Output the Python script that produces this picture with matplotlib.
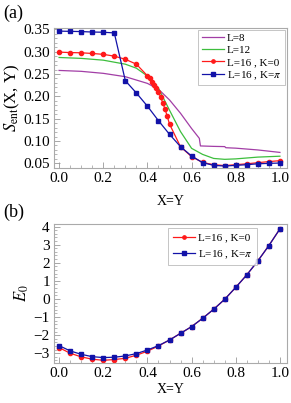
import matplotlib
matplotlib.use("Agg")
import matplotlib.pyplot as plt
from matplotlib.ticker import MultipleLocator, FormatStrFormatter

plt.rcParams['font.family'] = 'serif'
plt.rcParams['font.serif'] = ['Liberation Serif', 'DejaVu Serif']
plt.rcParams['mathtext.fontset'] = 'stix'

# ---- Panel (a) data ----
x_l8 = [0.0, 0.1, 0.2, 0.3, 0.4, 0.45, 0.5, 0.55, 0.6, 0.635, 0.64, 0.7, 0.75, 0.755, 0.8, 0.9, 1.0]
s_l8 = [0.258, 0.256, 0.2515, 0.244, 0.229, 0.216, 0.192, 0.162, 0.128, 0.106, 0.089, 0.088, 0.0875, 0.085, 0.084, 0.080, 0.0745]

x_l12 = [0.0, 0.1, 0.2, 0.3, 0.35, 0.4, 0.45, 0.5, 0.55, 0.6, 0.65, 0.7, 0.75, 0.8, 0.9, 1.0]
s_l12 = [0.287, 0.285, 0.281, 0.272, 0.263, 0.2455, 0.218, 0.169, 0.121, 0.0836, 0.070, 0.061, 0.059, 0.060, 0.064, 0.066]

x_k0 = [0.0, 0.05, 0.1, 0.15, 0.2, 0.25, 0.3, 0.35, 0.40, 0.41, 0.42, 0.43, 0.44, 0.45, 0.46,
        0.47, 0.48, 0.49, 0.50, 0.55, 0.6, 0.65, 0.7, 0.75, 0.8, 0.85, 0.9, 0.95, 1.0]
s_k0 = [0.299, 0.298, 0.2975, 0.296, 0.294, 0.290, 0.283, 0.272, 0.246, 0.240, 0.233, 0.226, 0.218,
        0.210, 0.198, 0.185, 0.171, 0.155, 0.138, 0.087, 0.065, 0.052, 0.047, 0.045, 0.047, 0.049,
        0.0515, 0.054, 0.056]

x_kpi = [0.0, 0.05, 0.1, 0.15, 0.2, 0.25, 0.3, 0.35, 0.4, 0.45, 0.5, 0.55, 0.6, 0.65, 0.7,
         0.75, 0.8, 0.85, 0.9, 0.95, 1.0]
s_kpi = [0.346, 0.3455, 0.345, 0.344, 0.3435, 0.342, 0.235, 0.2075, 0.178, 0.1455, 0.115, 0.0873,
         0.0664, 0.0515, 0.0455, 0.044, 0.0455, 0.047, 0.049, 0.050, 0.0507]

# ---- Panel (b) data ----
x_e = [0.0, 0.05, 0.1, 0.15, 0.2, 0.25, 0.3, 0.35, 0.4, 0.45, 0.5, 0.55, 0.6, 0.65, 0.7,
       0.75, 0.8, 0.85, 0.9, 0.95, 1.0]
e_k0 = [-2.69, -3.00, -3.20, -3.33, -3.39, -3.35, -3.28, -3.11, -2.89, -2.60, -2.27, -1.90,
        -1.53, -1.07, -0.57, -0.02, 0.64, 1.33, 2.10, 2.95, 3.87]
e_kpi = [-2.58, -2.87, -3.06, -3.19, -3.24, -3.22, -3.15, -3.02, -2.82, -2.58, -2.27, -1.90,
         -1.53, -1.07, -0.57, -0.02, 0.64, 1.33, 2.10, 2.95, 3.87]

labels_a = ['L=8', 'L=12', 'L=16 , K=0', r'L=16 , K=$\pi$']
labels_b = ['L=16 , K=0', r'L=16 , K=$\pi$']

purple = '#A23EA6'
green = '#3DBE3D'
red = '#FF1A1A'
blue = '#1212A8'

W, H = 291, 403
fig = plt.figure(figsize=(W / 100, H / 100), dpi=100)

ax1 = fig.add_axes([54 / W, 1 - 168 / H, (287 - 54) / W, (168 - 28) / H])
ax2 = fig.add_axes([54 / W, 1 - 363 / H, (287 - 54) / W, (363 - 224) / H])

ax1.plot(x_l8, s_l8, color=purple, lw=0.9, label=labels_a[0])
ax1.plot(x_l12, s_l12, color=green, lw=0.9, label=labels_a[1])
ax1.plot(x_k0, s_k0, color=red, lw=0.9, marker='o', ms=3.0, label=labels_a[2])
ax1.plot(x_kpi, s_kpi, color=blue, lw=0.9, marker='s', ms=2.8, label=labels_a[3])
ax1.set_xlim(-0.023, 1.032)
ax1.set_ylim(0.0396, 0.353)
ax1.yaxis.set_major_locator(MultipleLocator(0.05))
ax1.yaxis.set_minor_locator(MultipleLocator(0.01))
ax1.yaxis.set_major_formatter(FormatStrFormatter('%.2f'))
ax1.set_ylabel(r'$S_{\rm ent}$(X, Y)', fontsize=12, labelpad=1)
ax1.set_xlabel('X=Y', fontsize=10, labelpad=7)
leg1 = ax1.legend(loc='upper right', fontsize=8, frameon=True, fancybox=False,
                  handlelength=2.0, handletextpad=0.3, borderpad=0.3, labelspacing=0.22,
                  borderaxespad=0.15, markerscale=0.8)
leg1.get_frame().set_edgecolor('#AAAAAA')
leg1.get_frame().set_linewidth(0.6)

ax2.plot(x_e, e_k0, color=red, lw=0.9, marker='o', ms=3.0, label=labels_b[0])
ax2.plot(x_e, e_kpi, color=blue, lw=0.9, marker='s', ms=2.8, label=labels_b[1])
ax2.set_xlim(-0.023, 1.032)
ax2.set_ylim(-3.54, 4.14)
ax2.yaxis.set_major_locator(MultipleLocator(1))
ax2.yaxis.set_minor_locator(MultipleLocator(0.2))
ax2.set_ylabel(r'$E_0$', fontsize=12, labelpad=2)
ax2.set_xlabel('X=Y', fontsize=10, labelpad=2)
leg2 = ax2.legend(loc='upper left', bbox_to_anchor=(0.49, 0.97), fontsize=8, frameon=True,
                  fancybox=False, handlelength=2.0, handletextpad=0.3, borderpad=0.4,
                  labelspacing=0.55, markerscale=0.8, borderaxespad=0)
leg2.get_frame().set_edgecolor('#AAAAAA')
leg2.get_frame().set_linewidth(0.6)

for ax in (ax1, ax2):
    ax.xaxis.set_major_locator(MultipleLocator(0.2))
    ax.xaxis.set_minor_locator(MultipleLocator(0.05))
    ax.xaxis.set_major_formatter(FormatStrFormatter('%.1f'))
    for sp in ax.spines.values():
        sp.set_color('#AAAAAA')
        sp.set_linewidth(0.8)
    ax.tick_params(which='both', direction='in', color='#999999', labelsize=11,
                   top=False, right=False, pad=3)
    ax.tick_params(which='major', length=4, width=0.6)
    ax.tick_params(which='minor', length=2, width=0.5)

fig.text(3 / W, 1 - 13 / H, '(a)', fontsize=13, va='center', ha='left')
fig.text(3 / W, 1 - 212 / H, '(b)', fontsize=13, va='center', ha='left')

fig.savefig('out.png', dpi=100)
